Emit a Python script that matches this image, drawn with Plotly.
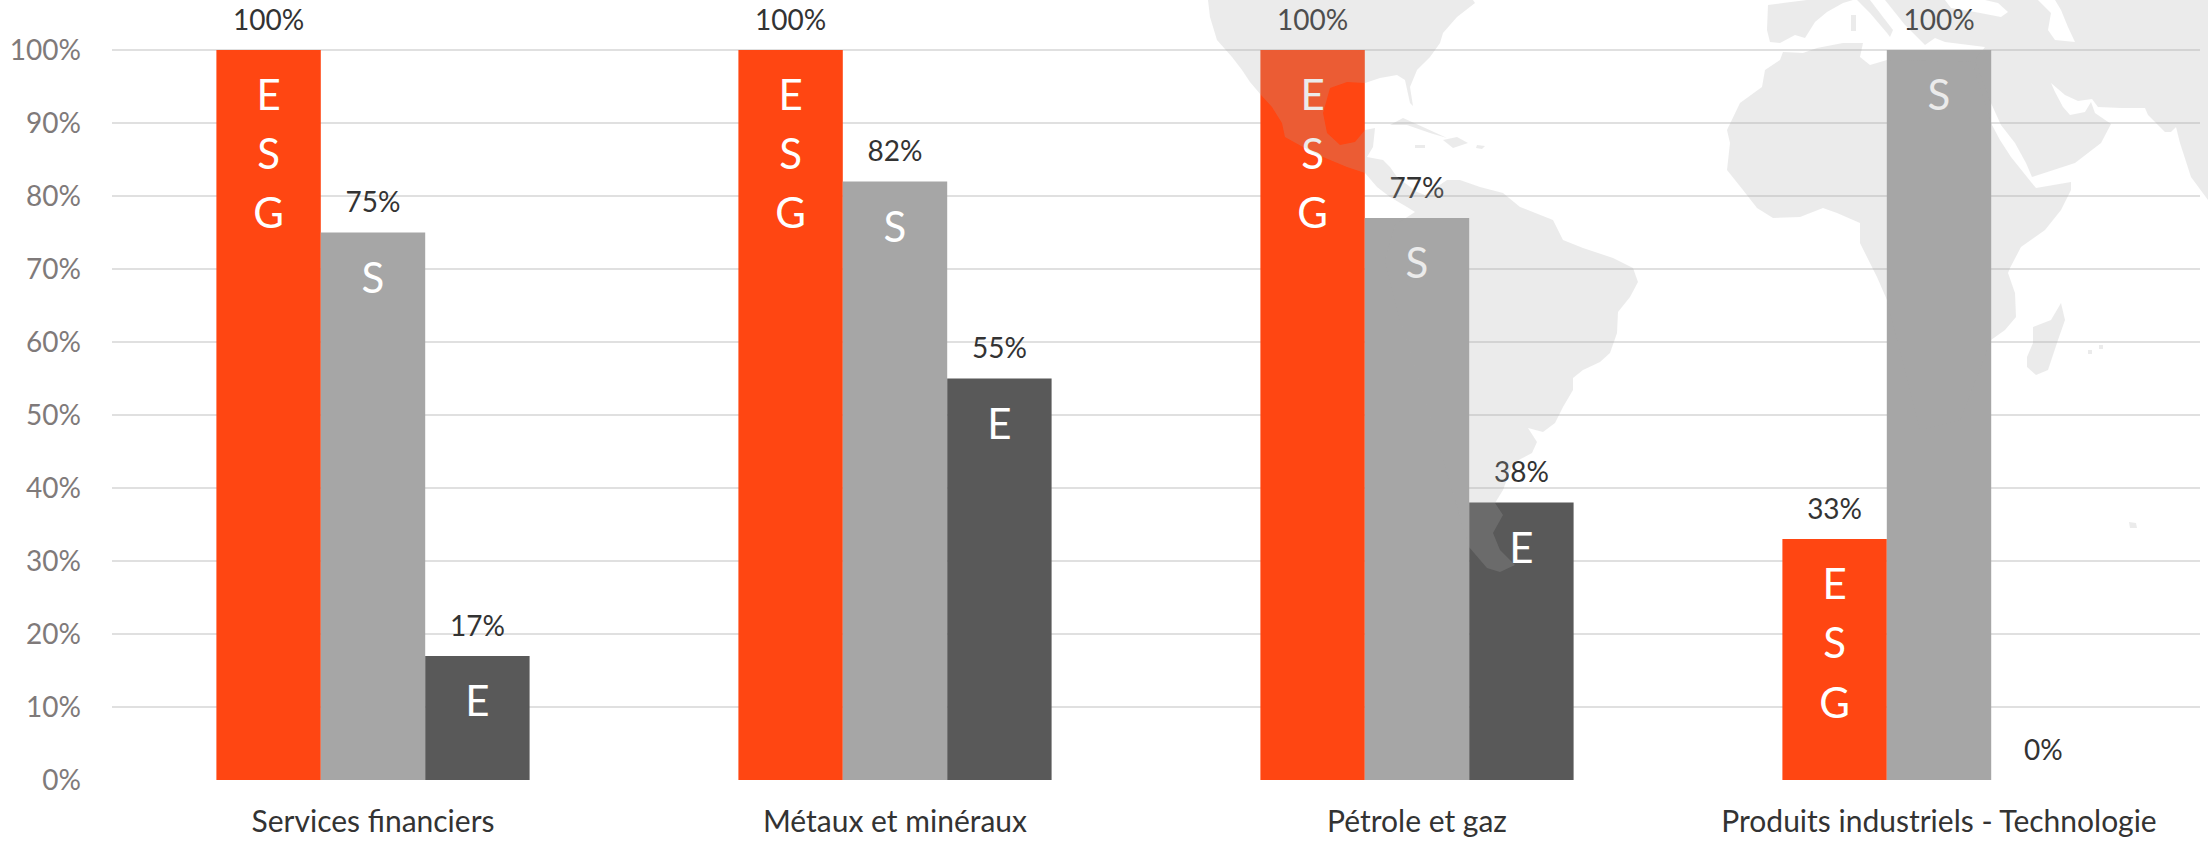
import plotly.graph_objects as go

categories = ["Services financiers", "Métaux et minéraux", "Pétrole et gaz", "Produits industriels - Technologie"]
esg_values = [100, 100, 100, 33]
s_values = [75, 82, 77, 100]
e_values = [17, 55, 38, 0]
series_letters = [["E", "S", "G"], ["S"], ["E"]]
series_colors = ["#FF4612", "#A6A6A6", "#595959"]
y_ticks = [0, 10, 20, 30, 40, 50, 60, 70, 80, 90, 100]

# Decorative world-map backdrop, traced in image pixels
AMERICAS = [(1208,0),(1210,17),(1217,40),(1232,57),(1242,70),(1250,82),(1261,95),(1272,107),(1282,123),(1285,137),(1303,147),
    (1323,157),(1347,167),(1365,173),(1377,187),(1390,197),(1407,207),(1415,212),(1395,225),(1385,260),(1400,320),(1440,450),
    (1469,547),(1487,568),(1500,572),(1515,565),(1500,550),(1493,533),(1503,515),(1495,503),(1503,490),(1513,463),(1532,453),
    (1537,442),(1528,428),(1543,432),(1555,423),(1563,407),(1573,390),(1573,378),(1583,370),(1600,362),(1610,353),(1617,333),
    (1618,312),(1630,297),(1638,282),(1633,268),(1613,258),(1583,248),(1563,240),(1553,220),(1520,207),(1503,193),(1480,187),
    (1460,180),(1447,180),(1425,195),(1417,192),(1397,177),(1390,167),(1383,160),(1367,157),(1373,147),(1375,128),(1365,130),
    (1355,142),(1340,145),(1327,133),(1323,113),(1330,88),(1347,82),(1365,83),(1380,78),(1397,75),(1405,80),(1410,103),(1413,106),
    (1410,87),(1417,70),(1430,57),(1440,43),(1443,33),(1457,17),(1475,3),(1473,0)]
IBERIA = [(1768,5),(1783,3),(1807,0),(1853,0),(1843,3),(1827,12),(1815,22),(1805,38),(1795,35),(1780,43),(1770,42),(1767,30)]
ITALY = [(1857,0),(1870,13),(1887,33),(1890,37),(1893,30),(1883,17),(1870,0)]
SARDINIA = [(1851,15),(1856,15),(1856,31),(1851,31)]
ASIA = [(1885,0),(1945,0),(1951,8),(1975,12),(2001,17),(2008,12),(1998,3),(1985,0),(2038,0),(2051,13),(2048,30),(2055,40),(2075,42),
    (2068,27),(2061,10),(2055,0),(2208,0),(2208,200),(2191,177),(2180,143),(2176,127),(2171,132),(2165,132),(2148,115),(2145,108),
    (2121,108),(2098,107),(2092,99),(2078,101),(2065,95),(2051,83),(2055,92),(2063,107),(2070,115),(2085,112),(2091,102),(2095,113),
    (2111,124),(2101,143),(2075,163),(2032,177),(2026,163),(2015,143),(2001,125),(1991,103),(1975,60),(1985,47),(1945,42),(1935,38),
    (1925,45),(1915,35),(1905,25)]
AFRICA = [(1783,52),(1803,53),(1817,48),(1843,43),(1863,43),(1860,57),(1870,65),(1887,60),(1972,62),(1991,123),(2000,140),(2011,157),
    (2031,182),(2036,188),(2071,182),(2071,190),(2061,210),(2045,230),(2021,247),(2010,268),(2008,273),(2015,293),(2016,317),(2005,330),
    (1991,340),(1960,420),(1920,430),(1900,350),(1887,300),(1877,277),(1860,243),(1860,223),(1837,213),(1823,208),(1800,217),(1773,218),
    (1757,208),(1743,190),(1727,170),(1730,143),(1727,130),(1740,103),(1762,87),(1765,70),(1780,60)]
MADAGASCAR = [(2061,303),(2065,320),(2058,340),(2048,370),(2036,375),(2027,367),(2027,357),(2033,343),(2033,327),(2051,320)]
CUBA = [(1390,125),(1403,118),(1423,127),(1447,138),(1430,133),(1407,125)]
HISPANIOLA = [(1443,140),(1457,137),(1468,143),(1453,148)]
PUERTO_RICO = [(1477,145),(1485,146),(1482,149),(1476,148)]
JAMAICA = [(1415,145),(1425,145),(1425,148),(1415,148)]
MAURITIUS = [(2129,522),(2136,523),(2137,528),(2130,528)]
REUNION = [(2088,350),(2092,350),(2092,354),(2088,354)]
RODRIGUES = [(2099,345),(2103,345),(2103,349),(2099,349)]
MAP_SHAPES = [AMERICAS, IBERIA, ITALY, SARDINIA, ASIA, AFRICA, MADAGASCAR, CUBA, HISPANIOLA, PUERTO_RICO, JAMAICA, MAURITIUS, REUNION, RODRIGUES]

PLOT_L, PLOT_R, PLOT_T, PLOT_B = 112, 2200, 0, 780
Y_TOP = 780 / 7.3
FONT = "Lato"

def to_path(points):
    xs = [(x - PLOT_L) / (PLOT_R - PLOT_L) for x, _ in points]
    ys = [(PLOT_B - y) / (PLOT_B - PLOT_T) for _, y in points]
    return "M" + " L".join(f"{a:.5f},{b:.5f}" for a, b in zip(xs, ys)) + " Z"

positions = list(range(len(categories)))
fig = go.Figure()
all_series = [esg_values, s_values, e_values]
offsets = [-0.2, 0, 0.2]
for values, color in zip(all_series, series_colors):
    fig.add_trace(go.Bar(x=positions, y=values, marker=dict(color=color, line=dict(width=0)), showlegend=False, hoverinfo="skip"))

# value labels above the bars, and letters inside them
for values, off, letters in zip(all_series, offsets, series_letters):
    fig.add_trace(go.Scatter(x=[p + off for p in positions], y=[v + 3.75 for v in values], mode="text",
        text=[f"{v}%" for v in values], textposition="middle center",
        textfont=dict(family=FONT, size=28, color="#333333"), cliponaxis=False, showlegend=False, hoverinfo="skip"))
    for k, letter in enumerate(letters):
        xs, ys = [], []
        for p, v in zip(positions, values):
            if v > 0:
                xs.append(p + off)
                ys.append(v - 6.8 - 8.1 * k)
        fig.add_trace(go.Scatter(x=xs, y=ys, mode="text", text=[letter] * len(xs), textposition="middle center",
            textfont=dict(family=FONT, size=42, color="#FFFFFF"), cliponaxis=False, showlegend=False, hoverinfo="skip"))

fig.update_layout(
    width=2208, height=841, autosize=False,
    margin=dict(l=PLOT_L, r=2208 - PLOT_R, t=PLOT_T, b=841 - PLOT_B, pad=0),
    paper_bgcolor="#FFFFFF", plot_bgcolor="#FFFFFF",
    barmode="group", bargap=0.4, bargroupgap=0, showlegend=False,
    xaxis=dict(range=[-0.5, 3.5], tickmode="array", tickvals=positions, ticktext=categories, showgrid=False, zeroline=False,
               showline=False, ticks="", ticklabelstandoff=21, tickfont=dict(family=FONT, size=30, color="#333333")),
    yaxis=dict(range=[0, Y_TOP], tickmode="array", tickvals=y_ticks, ticktext=[f"{t}%" for t in y_ticks], showgrid=True,
               gridcolor="#E0E0E0", gridwidth=2, zeroline=False, showline=False, ticks="", ticklabelstandoff=30,
               tickfont=dict(family=FONT, size=28, color="#7F7A7A")),
    shapes=[dict(type="path", path=to_path(p), xref="paper", yref="paper", layer="above",
                 fillcolor="rgba(170,170,170,0.23)", line=dict(width=0)) for p in MAP_SHAPES],
)
fig.write_html("out.html", config={"displayModeBar": False}, post_script="document.body.style.margin='0';")
